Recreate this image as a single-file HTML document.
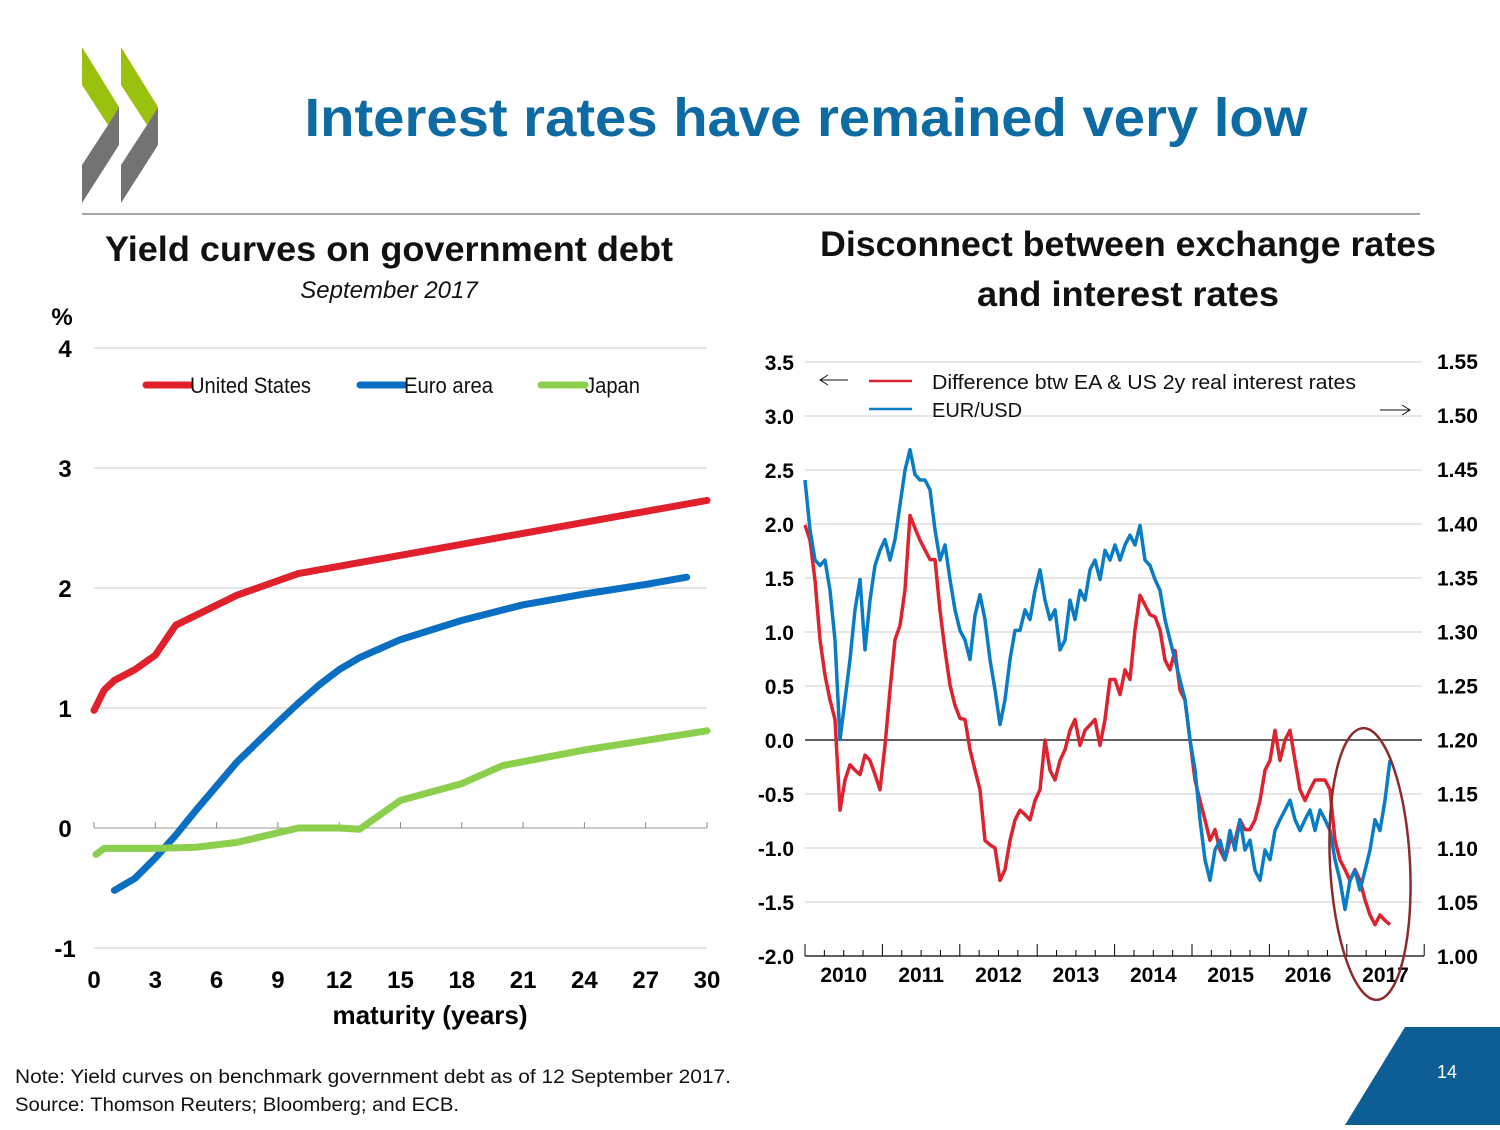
<!DOCTYPE html>
<html><head><meta charset="utf-8"><style>
html,body{margin:0;padding:0;background:#fff;}
body{width:1500px;height:1125px;position:relative;overflow:hidden;font-family:"Liberation Sans",sans-serif;}
svg text{font-family:"Liberation Sans",sans-serif;}
</style></head><body>
<svg id="root" width="1500" height="1125" viewBox="0 0 1500 1125" xmlns="http://www.w3.org/2000/svg">
<g>
<polygon points="82,47 82,85 108,125 119,107" fill="#9bc10f"/>
<polygon points="119,107 119,145 82,203 82,165 108,125" fill="#737373"/>
<polygon points="121,47 121,85 147,125 158,107" fill="#9bc10f"/>
<polygon points="158,107 158,145 121,203 121,165 147,125" fill="#737373"/>
</g>
<text x="806" y="136" text-anchor="middle" font-size="54" font-weight="bold" fill="#0e6aa3" textLength="1003" lengthAdjust="spacingAndGlyphs">Interest rates have remained very low</text>
<line x1="82" y1="214" x2="1420" y2="214" stroke="#888" stroke-width="1.5"/>

<text x="389" y="261" text-anchor="middle" font-size="35" font-weight="bold" fill="#111" textLength="568" lengthAdjust="spacingAndGlyphs">Yield curves on government debt</text>
<text x="389" y="298" text-anchor="middle" font-size="24" font-style="italic" fill="#111">September 2017</text>
<text x="62" y="325" text-anchor="middle" font-size="24" font-weight="bold" fill="#000">%</text>
<g id="left"></g>
<text x="430" y="1024" text-anchor="middle" font-size="26" font-weight="bold" fill="#000">maturity (years)</text>

<text x="1128" y="256" text-anchor="middle" font-size="35" font-weight="bold" fill="#111" textLength="616" lengthAdjust="spacingAndGlyphs">Disconnect between exchange rates</text>
<text x="1128" y="306" text-anchor="middle" font-size="35" font-weight="bold" fill="#111" textLength="302" lengthAdjust="spacingAndGlyphs">and interest rates</text>
<g id="right"></g>

<text x="15" y="1083" font-size="19" fill="#111" textLength="716" lengthAdjust="spacingAndGlyphs">Note: Yield curves on benchmark government debt as of 12 September 2017.</text>
<text x="15" y="1111" font-size="19" fill="#111" textLength="444" lengthAdjust="spacingAndGlyphs">Source: Thomson Reuters; Bloomberg; and ECB.</text>
<polygon points="1345,1125 1405,1027 1500,1027 1500,1125" fill="#0e5e96"/>
<text x="1447" y="1078" text-anchor="middle" font-size="18" fill="#fff">14</text>
</svg>
<script>
// ---- Left chart data ----
const usMat = [0,0.5,1,2,3,4,7,10,30];
const usYield = [0.98,1.15,1.23,1.32,1.44,1.69,1.94,2.12,2.73];
const euMat = [1,2,3,4,5,7,9,10,11,12,13,15,18,21,24,27,29];
const euYield = [-0.52,-0.42,-0.25,-0.06,0.15,0.55,0.88,1.04,1.19,1.32,1.42,1.57,1.73,1.86,1.95,2.03,2.09];
const jpMat = [0.1,0.5,3,5,7,10,12,13,15,18,20,24,30];
const jpYield = [-0.22,-0.17,-0.17,-0.16,-0.12,0.0,0.0,-0.01,0.23,0.37,0.52,0.65,0.81];
const leftYTicks = [4,3,2,1,0,-1];
const leftXTicks = [0,3,6,9,12,15,18,21,24,27,30];

// ---- Right chart data ----
const startYear = 2010.0, stepYears = 0.0646;
const rateDiff = [1.99,1.85,1.48,0.93,0.60,0.37,0.19,-0.65,-0.37,-0.23,-0.28,-0.32,-0.14,-0.19,-0.32,-0.46,-0.05,0.46,0.93,1.06,1.39,2.08,1.96,1.85,1.76,1.67,1.67,1.20,0.83,0.51,0.32,0.20,0.19,-0.09,-0.28,-0.46,-0.93,-0.97,-1.00,-1.30,-1.20,-0.93,-0.74,-0.65,-0.69,-0.74,-0.56,-0.46,0.00,-0.28,-0.37,-0.19,-0.09,0.09,0.19,-0.05,0.09,0.14,0.19,-0.05,0.19,0.56,0.56,0.42,0.65,0.56,1.02,1.34,1.25,1.16,1.14,1.02,0.74,0.65,0.83,0.46,0.37,0.00,-0.37,-0.56,-0.74,-0.93,-0.83,-1.02,-1.11,-0.93,-0.93,-0.74,-0.83,-0.83,-0.74,-0.56,-0.28,-0.19,0.09,-0.19,0.00,0.09,-0.19,-0.46,-0.56,-0.46,-0.37,-0.37,-0.37,-0.46,-0.93,-1.11,-1.20,-1.30,-1.20,-1.30,-1.48,-1.62,-1.71,-1.62,-1.67,-1.71];
const eurUsd = [1.440,1.394,1.366,1.361,1.366,1.338,1.292,1.200,1.237,1.274,1.320,1.348,1.283,1.329,1.361,1.375,1.385,1.366,1.385,1.417,1.449,1.468,1.445,1.440,1.440,1.431,1.394,1.366,1.380,1.348,1.320,1.301,1.292,1.274,1.315,1.334,1.311,1.274,1.246,1.214,1.237,1.274,1.301,1.301,1.320,1.311,1.338,1.357,1.329,1.311,1.320,1.283,1.292,1.329,1.311,1.338,1.329,1.357,1.366,1.348,1.375,1.366,1.380,1.366,1.380,1.389,1.380,1.398,1.366,1.361,1.348,1.338,1.311,1.292,1.274,1.255,1.237,1.200,1.172,1.126,1.089,1.070,1.098,1.107,1.089,1.116,1.098,1.126,1.098,1.107,1.079,1.070,1.098,1.089,1.116,1.126,1.135,1.144,1.126,1.116,1.126,1.135,1.116,1.135,1.126,1.116,1.089,1.070,1.043,1.070,1.079,1.061,1.079,1.098,1.126,1.116,1.144,1.181];
const leftAxisTicks = ["3.5","3.0","2.5","2.0","1.5","1.0","0.5","0.0","-0.5","-1.0","-1.5","-2.0"];
const rightAxisTicks = ["1.55","1.50","1.45","1.40","1.35","1.30","1.25","1.20","1.15","1.10","1.05","1.00"];
const yearLabels = ["2010","2011","2012","2013","2014","2015","2016","2017"];

const NS="http://www.w3.org/2000/svg";
function mk(parent,tag,attrs,text){const e=document.createElementNS(NS,tag);for(const k in attrs)e.setAttribute(k,attrs[k]);if(text!==undefined)e.textContent=text;parent.appendChild(e);return e;}

// Left chart
const L=document.getElementById('left');
const lx=m=>94+m*(707-94)/30;
const ly=v=>828-v*120;
leftYTicks.forEach(v=>{
  let g=mk(L,'line',{x1:94,x2:707,y1:ly(v),y2:ly(v),stroke:v===0?'#999':'#ccc','stroke-width':1});
  
  
  let t=mk(L,'text',{x:65,y:ly(v)+9,'text-anchor':'middle','font-size':24,'font-weight':'bold'},String(v));
  
  
});
leftXTicks.forEach(m=>{
  let k=mk(L,'line',{x1:lx(m),x2:lx(m),y1:822,y2:828,stroke:'#888','stroke-width':1});
  
  
  let t=mk(L,'text',{x:lx(m),y:988,'text-anchor':'middle','font-size':24,'font-weight':'bold'},String(m));
  
  
});
function curve(mats,vals,color,name){
  const d=mats.map((m,i)=>(i?'L':'M')+lx(m).toFixed(1)+','+ly(vals[i]).toFixed(1)).join(' ');
  const p=mk(L,'path',{d:d,fill:'none',stroke:color,'stroke-width':7,'stroke-linejoin':'round','stroke-linecap':'round'});
  
  
}
curve(usMat,usYield,'#e0202a','us-yield-curve');
curve(euMat,euYield,'#0a6fc2','euro-yield-curve');
curve(jpMat,jpYield,'#8ccf4d','japan-yield-curve');
[[146,190,'#e0202a','United States','legend-us',121],[360,404,'#0a6fc2','Euro area','legend-euro',89],[541,585,'#8ccf4d','Japan','legend-japan',55]].forEach(a=>{
  const g=mk(L,'g',{});
  
  
  mk(g,'line',{x1:a[0],x2:a[1],y1:385,y2:385,stroke:a[2],'stroke-width':7,'stroke-linecap':'round'});
  mk(g,'text',{x:a[1],y:393,'font-size':22,fill:'#111',textLength:a[5],lengthAdjust:'spacingAndGlyphs'},a[3]);
});

// Right chart
const R=document.getElementById('right');
const X0=805,X1=1422;
const rx=t=>805+(t-2010)*77.4;
const ryL=v=>740-v*108;
const ryR=u=>956-(u-1.0)*1081.8;
leftAxisTicks.forEach((s,i)=>{
  const v=parseFloat(s);const y=ryL(v);
  if(v!==-2){
    let g=mk(R,'line',{x1:X0,x2:X1,y1:y,y2:y,stroke:v===0?'#000':'#ccc','stroke-width':v===0?1.3:1});
    
    
  }
  let t=mk(R,'text',{x:794,y:y+8,'text-anchor':'end','font-size':21,'font-weight':'bold'},s);
  
  
});
rightAxisTicks.forEach(s=>{
  const y=ryR(parseFloat(s));
  let t=mk(R,'text',{x:1437,y:y+8,'font-size':21,'font-weight':'bold'},s);
  
  
});
let ax=mk(R,'line',{x1:X0,x2:X1+2,y1:956,y2:956,stroke:'#000','stroke-width':1.3});


for(let q=0;q<=32;q++){
  const x=805+q*77.4/4;
  let k=mk(R,'line',{x1:x,x2:x,y1:q%4===0?944:950,y2:956,stroke:'#000','stroke-width':1});
  
  
}
yearLabels.forEach(y=>{
  let t=mk(R,'text',{x:rx(parseInt(y)+0.5),y:982,'text-anchor':'middle','font-size':21,'font-weight':'bold'},y);
  
  
});
function series(vals,ymap,color,name){
  const d=vals.map((v,i)=>(i?'L':'M')+rx(startYear+i*stepYears).toFixed(1)+','+ymap(v).toFixed(1)).join(' ');
  const p=mk(R,'path',{d:d,fill:'none',stroke:color,'stroke-width':3.5,'stroke-linejoin':'round'});
  
  
}
series(rateDiff,ryL,'#dd2230','rate-difference-line');
series(eurUsd,ryR,'#0a7cc4','eur-usd-line');
const lg=mk(R,'g',{});


mk(lg,'line',{x1:869,x2:912,y1:381,y2:381,stroke:'#dd2230','stroke-width':2.5});
mk(lg,'text',{x:932,y:389,'font-size':20,fill:'#111',textLength:424,lengthAdjust:'spacingAndGlyphs'},'Difference btw EA & US 2y real interest rates');
mk(lg,'line',{x1:869,x2:912,y1:409,y2:409,stroke:'#0a7cc4','stroke-width':2.5});
mk(lg,'text',{x:932,y:417,'font-size':20,fill:'#111'},'EUR/USD');
mk(lg,'line',{x1:820,x2:848,y1:380,y2:380,stroke:'#111','stroke-width':1});
mk(lg,'path',{d:'M828,375 L820,380 L828,385',fill:'none',stroke:'#111','stroke-width':1});
mk(lg,'line',{x1:1380,x2:1410,y1:410,y2:410,stroke:'#111','stroke-width':1});
mk(lg,'path',{d:'M1402,405 L1410,410 L1402,415',fill:'none',stroke:'#111','stroke-width':1});
const el=mk(R,'ellipse',{cx:1370,cy:864,rx:40,ry:136,fill:'none',stroke:'#8b2b2b','stroke-width':2.5,transform:'rotate(-3 1370 864)'});


</script>
</body></html>
